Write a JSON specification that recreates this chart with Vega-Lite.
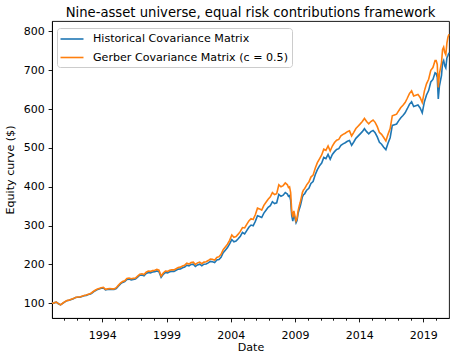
{
  "$schema": "https://vega.github.io/schema/vega-lite/v6.json",
  "width": 397,
  "height": 297,
  "autosize": {"type": "none"},
  "padding": {"left": 52, "top": 21, "right": 9, "bottom": 42},
  "title": {"text": "Nine-asset universe, equal risk contributions framework", "fontSize": 13.2, "fontWeight": "normal", "font": "DejaVu Sans", "color": "black", "anchor": "middle", "frame": "group", "offset": 4, "baseline": "alphabetic", "dy": 13},
  "config": {
    "view": {"stroke": "black", "strokeWidth": 0.9},
    "axis": {"labelFont": "DejaVu Sans", "labelFontSize": 11, "labelColor": "black", "titleFont": "DejaVu Sans", "titleFontSize": 11.1, "titleFontWeight": "normal", "titleColor": "black", "tickColor": "black", "tickWidth": 0.9, "tickSize": 3.9, "domainColor": "black", "domainWidth": 0.9, "grid": false, "labelPadding": 3.9}
  },
  "data": {"values": [
    {"d": "1990-01-31", "g": 100, "h": 100},
    {"d": "1990-04", "g": 101, "h": 101},
    {"d": "1990-06", "g": 103, "h": 102.8},
    {"d": "1990-08", "g": 99, "h": 98.8},
    {"d": "1990-10", "g": 96, "h": 95.8},
    {"d": "1990-12", "g": 100, "h": 99.7},
    {"d": "1991-02", "g": 104, "h": 103.7},
    {"d": "1991-04", "g": 107, "h": 106.7},
    {"d": "1991-06", "g": 108, "h": 107.7},
    {"d": "1991-08", "g": 110, "h": 109.7},
    {"d": "1991-10", "g": 112, "h": 111.6},
    {"d": "1991-12", "g": 115, "h": 114.6},
    {"d": "1992-02", "g": 116, "h": 115.3},
    {"d": "1992-04", "g": 116, "h": 115.3},
    {"d": "1992-06", "g": 118, "h": 117.3},
    {"d": "1992-08", "g": 120, "h": 119.3},
    {"d": "1992-10", "g": 121, "h": 120.3},
    {"d": "1992-12", "g": 123, "h": 122.3},
    {"d": "1993-02", "g": 125, "h": 123.8},
    {"d": "1993-04", "g": 129, "h": 127.7},
    {"d": "1993-06", "g": 133, "h": 131.7},
    {"d": "1993-08", "g": 136, "h": 134.7},
    {"d": "1993-10", "g": 138, "h": 136.6},
    {"d": "1993-12", "g": 140, "h": 138.6},
    {"d": "1994-02", "g": 141, "h": 139.3},
    {"d": "1994-04", "g": 136, "h": 134.4},
    {"d": "1994-06", "g": 137, "h": 135.4},
    {"d": "1994-08", "g": 138, "h": 136.4},
    {"d": "1994-10", "g": 137, "h": 135.4},
    {"d": "1994-12", "g": 137, "h": 135.4},
    {"d": "1995-02", "g": 140, "h": 137.9},
    {"d": "1995-04", "g": 146, "h": 143.8},
    {"d": "1995-06", "g": 152, "h": 149.8},
    {"d": "1995-08", "g": 156, "h": 153.7},
    {"d": "1995-10", "g": 158, "h": 155.7},
    {"d": "1995-12", "g": 164, "h": 161.6},
    {"d": "1996-02", "g": 165, "h": 162.2},
    {"d": "1996-04", "g": 163, "h": 160.3},
    {"d": "1996-06", "g": 164, "h": 161.3},
    {"d": "1996-08", "g": 165, "h": 162.2},
    {"d": "1996-10", "g": 170, "h": 167.2},
    {"d": "1996-12", "g": 175, "h": 172.1},
    {"d": "1997-02", "g": 176, "h": 172.5},
    {"d": "1997-04", "g": 174, "h": 170.6},
    {"d": "1997-06", "g": 180, "h": 176.5},
    {"d": "1997-08", "g": 183, "h": 179.4},
    {"d": "1997-10", "g": 182, "h": 178.4},
    {"d": "1997-12", "g": 184, "h": 180.4},
    {"d": "1998-02", "g": 185, "h": 181.4},
    {"d": "1998-04", "g": 187, "h": 183.3},
    {"d": "1998-06", "g": 185, "h": 181.4},
    {"d": "1998-08", "g": 170, "h": 166.7},
    {"d": "1998-10", "g": 178, "h": 174.5},
    {"d": "1998-12", "g": 183, "h": 179.4},
    {"d": "1999-02", "g": 182, "h": 178.1},
    {"d": "1999-04", "g": 185, "h": 181.0},
    {"d": "1999-06", "g": 186, "h": 182.0},
    {"d": "1999-08", "g": 186, "h": 182.0},
    {"d": "1999-10", "g": 189, "h": 184.9},
    {"d": "1999-12", "g": 192, "h": 187.9},
    {"d": "2000-02", "g": 193, "h": 188.3},
    {"d": "2000-04", "g": 196, "h": 191.2},
    {"d": "2000-06", "g": 198, "h": 193.2},
    {"d": "2000-08", "g": 203, "h": 198.0},
    {"d": "2000-10", "g": 201, "h": 196.1},
    {"d": "2000-12", "g": 205, "h": 200.0},
    {"d": "2001-02", "g": 206, "h": 200.6},
    {"d": "2001-04", "g": 200, "h": 194.7},
    {"d": "2001-06", "g": 204, "h": 198.6},
    {"d": "2001-08", "g": 206, "h": 200.6},
    {"d": "2001-10", "g": 202, "h": 196.7},
    {"d": "2001-12", "g": 206, "h": 200.6},
    {"d": "2002-02", "g": 207, "h": 201.0},
    {"d": "2002-04", "g": 210, "h": 203.9},
    {"d": "2002-06", "g": 214, "h": 207.8},
    {"d": "2002-08", "g": 213, "h": 206.8},
    {"d": "2002-10", "g": 211, "h": 204.9},
    {"d": "2002-12", "g": 218, "h": 211.7},
    {"d": "2003-02", "g": 220, "h": 212.6},
    {"d": "2003-04", "g": 226, "h": 218.4},
    {"d": "2003-06", "g": 238, "h": 230.0},
    {"d": "2003-08", "g": 245, "h": 236.7},
    {"d": "2003-10", "g": 252, "h": 243.5},
    {"d": "2003-12", "g": 262, "h": 253.1},
    {"d": "2004-02", "g": 276, "h": 264.1},
    {"d": "2004-04", "g": 270, "h": 258.4},
    {"d": "2004-06", "g": 272, "h": 260.3},
    {"d": "2004-08", "g": 278, "h": 266.0},
    {"d": "2004-10", "g": 285, "h": 272.7},
    {"d": "2004-12", "g": 295, "h": 282.3},
    {"d": "2005-02", "g": 294, "h": 278.7},
    {"d": "2005-04", "g": 303, "h": 287.2},
    {"d": "2005-06", "g": 312, "h": 295.7},
    {"d": "2005-08", "g": 318, "h": 301.4},
    {"d": "2005-10", "g": 316, "h": 299.5},
    {"d": "2005-12", "g": 328, "h": 310.9},
    {"d": "2006-02", "g": 345, "h": 325.5},
    {"d": "2006-04", "g": 343, "h": 323.6},
    {"d": "2006-06", "g": 340, "h": 320.8},
    {"d": "2006-08", "g": 352, "h": 332.1},
    {"d": "2006-10", "g": 360, "h": 339.6},
    {"d": "2006-12", "g": 368, "h": 347.2},
    {"d": "2007-02", "g": 374, "h": 351.2},
    {"d": "2007-04", "g": 385, "h": 361.5},
    {"d": "2007-06", "g": 380, "h": 356.8},
    {"d": "2007-08", "g": 382, "h": 358.7},
    {"d": "2007-10", "g": 405, "h": 380.3},
    {"d": "2007-12", "g": 400, "h": 375.6},
    {"d": "2008-02", "g": 403, "h": 378.4},
    {"d": "2008-04", "g": 410, "h": 385.0},
    {"d": "2008-06", "g": 405, "h": 381.0},
    {"d": "2008-07", "g": 398, "h": 375.5},
    {"d": "2008-08", "g": 400, "h": 377.4},
    {"d": "2008-09", "g": 385, "h": 364.9},
    {"d": "2008-10", "g": 338, "h": 326.6},
    {"d": "2008-11", "g": 321, "h": 311.7},
    {"d": "2008-12", "g": 338, "h": 328.2},
    {"d": "2009-01", "g": 325, "h": 318.6},
    {"d": "2009-02", "g": 312, "h": 307.4},
    {"d": "2009-03", "g": 318, "h": 313.3},
    {"d": "2009-04", "g": 338, "h": 331.4},
    {"d": "2009-05", "g": 350, "h": 341.5},
    {"d": "2009-06", "g": 360, "h": 349.5},
    {"d": "2009-07", "g": 372, "h": 361.2},
    {"d": "2009-08", "g": 385, "h": 373.8},
    {"d": "2009-09", "g": 392, "h": 379.5},
    {"d": "2009-10", "g": 395, "h": 381.6},
    {"d": "2009-11", "g": 400, "h": 386.5},
    {"d": "2009-12", "g": 405, "h": 391.3},
    {"d": "2010-02", "g": 412, "h": 396.2},
    {"d": "2010-04", "g": 425, "h": 408.7},
    {"d": "2010-06", "g": 430, "h": 413.5},
    {"d": "2010-08", "g": 448, "h": 430.8},
    {"d": "2010-10", "g": 462, "h": 444.2},
    {"d": "2010-12", "g": 472, "h": 453.8},
    {"d": "2011-02", "g": 482, "h": 461.2},
    {"d": "2011-04", "g": 497, "h": 475.6},
    {"d": "2011-06", "g": 494, "h": 472.7},
    {"d": "2011-08", "g": 505, "h": 483.3},
    {"d": "2011-10", "g": 492, "h": 470.8},
    {"d": "2011-12", "g": 505, "h": 483.3},
    {"d": "2012-02", "g": 514, "h": 490.5},
    {"d": "2012-04", "g": 520, "h": 496.2},
    {"d": "2012-06", "g": 522, "h": 498.1},
    {"d": "2012-08", "g": 531, "h": 506.7},
    {"d": "2012-10", "g": 535, "h": 510.5},
    {"d": "2012-12", "g": 538, "h": 513.4},
    {"d": "2013-02", "g": 542, "h": 517.2},
    {"d": "2013-04", "g": 544, "h": 519.1},
    {"d": "2013-06", "g": 531, "h": 506.7},
    {"d": "2013-08", "g": 540, "h": 515.3},
    {"d": "2013-10", "g": 550, "h": 524.8},
    {"d": "2013-12", "g": 556, "h": 530.5},
    {"d": "2014-02", "g": 562, "h": 536.3},
    {"d": "2014-04", "g": 568, "h": 542.0},
    {"d": "2014-06", "g": 576, "h": 549.6},
    {"d": "2014-08", "g": 568, "h": 542.0},
    {"d": "2014-10", "g": 562, "h": 536.3},
    {"d": "2014-12", "g": 568, "h": 542.0},
    {"d": "2015-02", "g": 572, "h": 544.8},
    {"d": "2015-04", "g": 566, "h": 539.0},
    {"d": "2015-06", "g": 555, "h": 528.6},
    {"d": "2015-08", "g": 540, "h": 514.3},
    {"d": "2015-10", "g": 535, "h": 509.5},
    {"d": "2015-12", "g": 527, "h": 501.9},
    {"d": "2016-02", "g": 518, "h": 495.7},
    {"d": "2016-04", "g": 535, "h": 512.0},
    {"d": "2016-06", "g": 550, "h": 526.3},
    {"d": "2016-08", "g": 583, "h": 557.9},
    {"d": "2016-10", "g": 585, "h": 559.8},
    {"d": "2016-12", "g": 587, "h": 561.7},
    {"d": "2017-02", "g": 596, "h": 570.3},
    {"d": "2017-04", "g": 604, "h": 578.0},
    {"d": "2017-06", "g": 610, "h": 583.7},
    {"d": "2017-08", "g": 617, "h": 590.4},
    {"d": "2017-10", "g": 628, "h": 601.0},
    {"d": "2017-12", "g": 640, "h": 612.4},
    {"d": "2018-02", "g": 647, "h": 619.1},
    {"d": "2018-04", "g": 634, "h": 606.7},
    {"d": "2018-06", "g": 636, "h": 608.6},
    {"d": "2018-08", "g": 638, "h": 610.5},
    {"d": "2018-10", "g": 630, "h": 602.9},
    {"d": "2018-12", "g": 617, "h": 590.4},
    {"d": "2019-02", "g": 647, "h": 619.1},
    {"d": "2019-04", "g": 665, "h": 636.4},
    {"d": "2019-06", "g": 677, "h": 647.8},
    {"d": "2019-08", "g": 700, "h": 669.9},
    {"d": "2019-10", "g": 707, "h": 676.6},
    {"d": "2019-12", "g": 725, "h": 693.8},
    {"d": "2020-01", "g": 725, "h": 691.8},
    {"d": "2020-02", "g": 715, "h": 682.3},
    {"d": "2020-03", "g": 656, "h": 626.0},
    {"d": "2020-04", "g": 690, "h": 658.4},
    {"d": "2020-05", "g": 705, "h": 672.7},
    {"d": "2020-06", "g": 720, "h": 687.0},
    {"d": "2020-07", "g": 754, "h": 719.5},
    {"d": "2020-08", "g": 760, "h": 725.2},
    {"d": "2020-09", "g": 746, "h": 711.8},
    {"d": "2020-10", "g": 740, "h": 706.1},
    {"d": "2020-11", "g": 770, "h": 732.0},
    {"d": "2020-12", "g": 785, "h": 738.0},
    {"d": "2020-12-31", "g": 793, "h": 745.0}
  ]},
  "transform": [{"fold": ["h", "g"], "as": ["series", "value"]}],
  "layer": [
    {
      "mark": {"type": "line", "strokeWidth": 1.6},
      "encoding": {
        "x": {"field": "d", "type": "temporal",
          "scale": {"domain": [{"year": 1990, "month": 1, "date": 31}, {"year": 2020, "month": 12, "date": 31}]},
          "axis": {"title": "Date", "format": "%Y", "titlePadding": 1, "labelPadding": 7.5,
            "values": [{"year": 1994}, {"year": 1999}, {"year": 2004}, {"year": 2009}, {"year": 2014}, {"year": 2019}]}},
        "y": {"field": "value", "type": "quantitative",
          "scale": {"domain": [62, 827], "nice": false, "zero": false},
          "axis": {"title": "Equity curve ($)", "titlePadding": 8, "values": [100, 200, 300, 400, 500, 600, 700, 800]}},
        "color": {"field": "series", "type": "nominal",
          "scale": {"domain": ["h", "g"], "range": ["#1f77b4", "#ff7f0e"]},
          "legend": {"orient": "none", "legendX": 5, "legendY": 7, "title": null,
            "labelExpr": "datum.label == 'h' ? 'Historical Covariance Matrix' : 'Gerber Covariance Matrix (c = 0.5)'",
            "symbolType": "M-2,0H2", "symbolSize": 132, "symbolStrokeWidth": 1.6, "symbolOffset": 4,
            "labelFont": "DejaVu Sans", "labelFontSize": 11.1, "labelColor": "black", "labelLimit": 400,
            "fillColor": "white", "strokeColor": "#cccccc", "padding": 4, "cornerRadius": 3,
            "rowPadding": 5.5, "labelOffset": 14}}
      }
    },
    {
      "mark": {"type": "line", "opacity": 0},
      "encoding": {
        "x": {"field": "d", "type": "temporal",
          "axis": {"title": null, "labels": false, "tickSize": 2.2, "domain": false, "orient": "bottom",
            "values": [{"year": 1991}, {"year": 1992}, {"year": 1993}, {"year": 1995}, {"year": 1996}, {"year": 1997}, {"year": 1998}, {"year": 2000}, {"year": 2001}, {"year": 2002}, {"year": 2003}, {"year": 2005}, {"year": 2006}, {"year": 2007}, {"year": 2008}, {"year": 2010}, {"year": 2011}, {"year": 2012}, {"year": 2013}, {"year": 2015}, {"year": 2016}, {"year": 2017}, {"year": 2018}, {"year": 2020}]}},
        "y": {"field": "value", "type": "quantitative"},
        "detail": {"field": "series"}
      }
    }
  ],
  "resolve": {"axis": {"x": "independent"}}
}
